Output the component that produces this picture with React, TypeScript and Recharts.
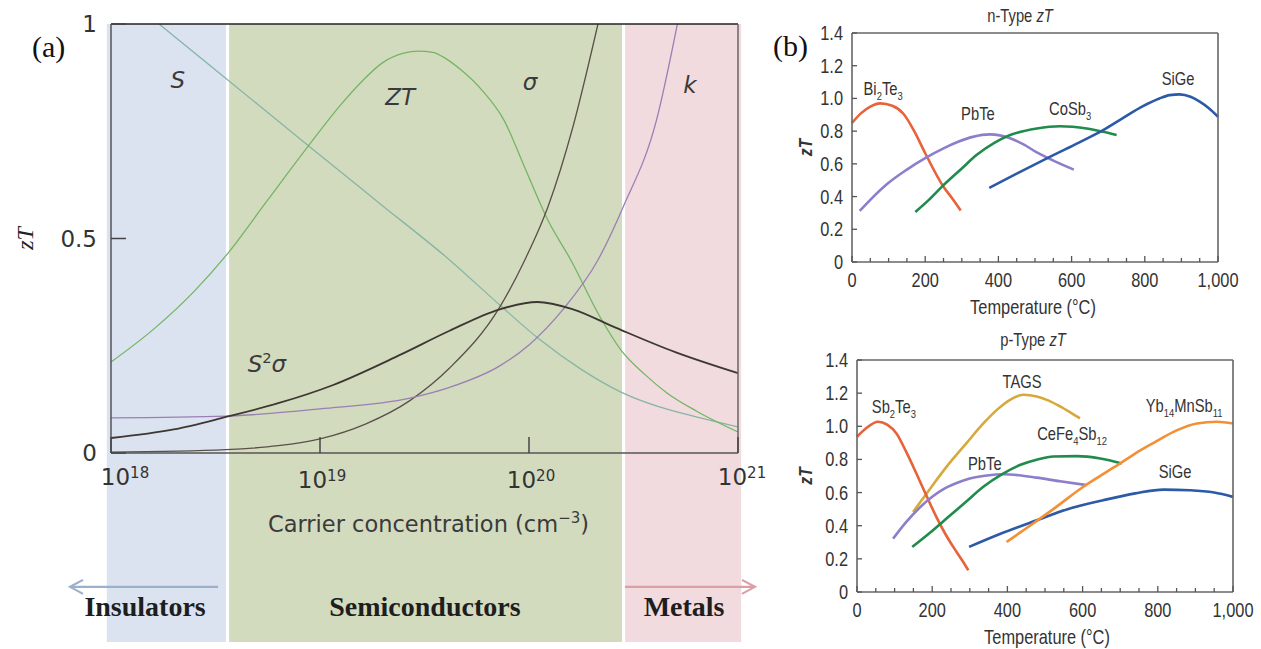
import React from 'react';
import { LineChart, Line, XAxis, YAxis, ReferenceArea, ReferenceDot, ReferenceLine } from 'recharts';

type Pair = [number, number];
type Seg = { t: string; sub?: boolean; sup?: boolean; it?: boolean };

// ================= Panel (a): log10(carrier concentration) vs relative magnitude
const aSeebeck: Pair[] = [[18.23, 1.0], [18.55, 0.873], [18.94, 0.718], [19.29, 0.58], [19.62, 0.45], [19.86, 0.345], [20.05, 0.265], [20.25, 0.195], [20.44, 0.142], [20.62, 0.108], [20.82, 0.082], [21.0, 0.061]];
const aZT: Pair[] = [[18.0, 0.212], [18.2, 0.287], [18.4, 0.378], [18.55, 0.46], [18.75, 0.59], [18.94, 0.713], [19.1, 0.812], [19.2, 0.866], [19.3, 0.91], [19.4, 0.932], [19.47, 0.937], [19.54, 0.934], [19.6, 0.92], [19.67, 0.895], [19.78, 0.843], [19.88, 0.776], [19.98, 0.665], [20.09, 0.543], [20.2, 0.45], [20.34, 0.317], [20.44, 0.24], [20.55, 0.185], [20.66, 0.14], [20.8, 0.098], [21.0, 0.049]];
const aSigma: Pair[] = [[18.0, 0.002], [18.55, 0.008], [18.8, 0.017], [19.0, 0.033], [19.22, 0.068], [19.43, 0.122], [19.62, 0.198], [19.86, 0.34], [19.98, 0.45], [20.09, 0.573], [20.21, 0.76], [20.33, 1.0]];
const aKappa: Pair[] = [[18.0, 0.082], [18.55, 0.086], [19.0, 0.103], [19.43, 0.128], [19.62, 0.153], [19.86, 0.203], [20.0, 0.252], [20.16, 0.333], [20.33, 0.45], [20.45, 0.573], [20.61, 0.776], [20.71, 1.0]];
const aPowerFactor: Pair[] = [[18.0, 0.035], [18.3, 0.055], [18.55, 0.084], [18.8, 0.116], [19.06, 0.158], [19.38, 0.228], [19.62, 0.285], [19.86, 0.335], [20.04, 0.352], [20.21, 0.335], [20.42, 0.291], [20.7, 0.235], [21.0, 0.186]];

const aXTicks = [18, 19, 20, 21];
const aYTicks = [0, 0.5, 1];

const aRegions = [
  { name: 'Insulators', from: 17.98, to: 18.55, labelX: 18.163, fill: '#dbe3f0' },
  { name: 'Semiconductors', from: 18.565, to: 20.445, labelX: 19.502, fill: '#d3dbbf' },
  { name: 'Metals', from: 20.46, to: 21.015, labelX: 20.742, fill: '#f1dbde' },
];
const aRegionLabelY = -0.38;
const aArrows = [
  { from: 18.512, to: 17.804, y: -0.312, color: '#9cb0cc' },
  { from: 20.459, to: 21.081, y: -0.312, color: '#d9a0a5' },
];
const aCurveLabels: { x: number; y: number; segs: Seg[] }[] = [
  { x: 18.32, y: 0.851, segs: [{ t: 'S', it: true }] },
  { x: 19.383, y: 0.811, segs: [{ t: 'ZT', it: true }] },
  { x: 20.005, y: 0.846, segs: [{ t: 'σ', it: true }] },
  { x: 20.77, y: 0.839, segs: [{ t: 'k', it: true }] },
  { x: 18.746, y: 0.189, segs: [{ t: 'S', it: true }, { t: '2', sup: true }, { t: 'σ', it: true }] },
];

// ================= Panel (b): temperature (°C) vs zT
const RED = '#e8623a';
const PURPLE = '#8d7ecb';
const GREEN = '#1f8b4c';
const BLUE = '#2c5aa6';
const GOLD = '#d6a93c';
const ORANGE = '#f39035';

const nBi2Te3: Pair[] = [[0, 0.85], [25, 0.91], [50, 0.95], [77, 0.97], [110, 0.955], [141, 0.905], [170, 0.8], [200, 0.665], [250, 0.46], [275, 0.385], [297, 0.315]];
const nPbTe: Pair[] = [[21, 0.312], [50, 0.38], [95, 0.475], [150, 0.565], [200, 0.635], [250, 0.695], [290, 0.735], [330, 0.765], [377, 0.78], [432, 0.757], [470, 0.717], [505, 0.67], [550, 0.62], [606, 0.565]];
const nCoSb3: Pair[] = [[173, 0.306], [210, 0.38], [250, 0.47], [300, 0.572], [341, 0.655], [390, 0.73], [432, 0.776], [505, 0.816], [568, 0.83], [641, 0.816], [686, 0.796], [723, 0.776]];
const nSiGe: Pair[] = [[375, 0.453], [450, 0.54], [550, 0.653], [620, 0.73], [686, 0.806], [740, 0.88], [795, 0.953], [840, 1.0], [868, 1.02], [895, 1.025], [925, 1.01], [950, 0.98], [975, 0.94], [1000, 0.888]];

const pSb2Te3: Pair[] = [[0, 0.937], [25, 0.99], [56, 1.027], [80, 1.01], [105, 0.957], [130, 0.85], [158, 0.715], [185, 0.58], [211, 0.453], [235, 0.35], [256, 0.272], [280, 0.19], [296, 0.131]];
const pTAGS: Pair[] = [[149, 0.483], [190, 0.61], [238, 0.755], [290, 0.895], [336, 1.017], [375, 1.105], [407, 1.16], [442, 1.19], [478, 1.18], [510, 1.155], [540, 1.12], [570, 1.08], [593, 1.048]];
const pPbTe: Pair[] = [[96, 0.322], [130, 0.42], [167, 0.51], [200, 0.575], [229, 0.62], [265, 0.658], [300, 0.685], [345, 0.703], [389, 0.711], [430, 0.705], [478, 0.69], [540, 0.668], [611, 0.645]];
const pCeFe4Sb12: Pair[] = [[147, 0.272], [190, 0.35], [238, 0.443], [290, 0.545], [336, 0.635], [385, 0.71], [433, 0.766], [480, 0.8], [522, 0.818], [584, 0.82], [647, 0.806], [704, 0.776]];
const pYb14MnSb11: Pair[] = [[398, 0.302], [460, 0.4], [522, 0.5], [602, 0.635], [650, 0.705], [700, 0.776], [750, 0.85], [789, 0.9], [850, 0.975], [904, 1.017], [957, 1.027], [1000, 1.017]];
const pSiGe: Pair[] = [[298, 0.272], [380, 0.35], [478, 0.433], [560, 0.5], [655, 0.554], [740, 0.595], [815, 0.618], [886, 0.614], [950, 0.6], [1000, 0.574]];

const bXTicks = [0, 50, 100, 150, 200, 250, 300, 350, 400, 450, 500, 550, 600, 650, 700, 750, 800, 850, 900, 950, 1000];
const bYTicks = [0, 0.2, 0.4, 0.6, 0.8, 1.0, 1.2, 1.4];

const nSeries = [
  { name: 'Bi2Te3', data: nBi2Te3, color: RED },
  { name: 'PbTe', data: nPbTe, color: PURPLE },
  { name: 'CoSb3', data: nCoSb3, color: GREEN },
  { name: 'SiGe', data: nSiGe, color: BLUE },
];
const pSeries = [
  { name: 'TAGS', data: pTAGS, color: GOLD },
  { name: 'Sb2Te3', data: pSb2Te3, color: RED },
  { name: 'PbTe', data: pPbTe, color: PURPLE },
  { name: 'CeFe4Sb12', data: pCeFe4Sb12, color: GREEN },
  { name: 'SiGe', data: pSiGe, color: BLUE },
  { name: 'Yb14MnSb11', data: pYb14MnSb11, color: ORANGE },
];
const nLabels: { x: number; y: number; segs: Seg[] }[] = [
  { x: 85, y: 1.021, segs: [{ t: 'Bi' }, { t: '2', sub: true }, { t: 'Te' }, { t: '3', sub: true }] },
  { x: 344, y: 0.868, segs: [{ t: 'PbTe' }] },
  { x: 596, y: 0.899, segs: [{ t: 'CoSb' }, { t: '3', sub: true }] },
  { x: 891, y: 1.082, segs: [{ t: 'SiGe' }] },
];
const pLabels: { x: number; y: number; segs: Seg[] }[] = [
  { x: 439, y: 1.231, segs: [{ t: 'TAGS' }] },
  { x: 98, y: 1.08, segs: [{ t: 'Sb' }, { t: '2', sub: true }, { t: 'Te' }, { t: '3', sub: true }] },
  { x: 572, y: 0.917, segs: [{ t: 'CeFe' }, { t: '4', sub: true }, { t: 'Sb' }, { t: '12', sub: true }] },
  { x: 870, y: 1.086, segs: [{ t: 'Yb' }, { t: '14', sub: true }, { t: 'MnSb' }, { t: '11', sub: true }] },
  { x: 340, y: 0.736, segs: [{ t: 'PbTe' }] },
  { x: 846, y: 0.688, segs: [{ t: 'SiGe' }] },
];

const toPts = (arr: Pair[]) => arr.map(([x, y]) => ({ x, y }));

const SANS_A = "'DejaVu Sans', sans-serif";
const SANS_B = "'Liberation Sans', Arial, sans-serif";
const SQUEEZE = 0.82;
const SERIF = "'Liberation Serif', 'DejaVu Serif', serif";

function Rich({ x, y, segs, size, family, fill, anchor = 'middle', weight, sx = 1 }: any) {
  let shift = 0;
  const kids = segs.map((s: Seg, i: number) => {
    const small = s.sub || s.sup;
    const target = s.sub ? size * 0.3 : s.sup ? -size * 0.38 : 0;
    const dy = target - shift;
    shift = target;
    return (
      <tspan key={i} dy={dy} fontSize={small ? size * 0.64 : size} fontStyle={s.it ? 'italic' : 'normal'}>
        {s.t}
      </tspan>
    );
  });
  return (
    <text x={0} y={0} transform={`translate(${x},${y}) scale(${sx},1)`} textAnchor={anchor} fontFamily={family} fontSize={size} fill={fill} fontWeight={weight}>
      {kids}
    </text>
  );
}

// Narrow (horizontally condensed) text for panel (b)
function NText({ x, y, size = 20, anchor = 'middle', rotate = 0, children, ...rest }: any) {
  return (
    <text
      x={0}
      y={0}
      transform={`translate(${x},${y}) rotate(${rotate}) scale(${SQUEEZE},1)`}
      textAnchor={anchor}
      fontFamily={SANS_B}
      fontSize={size}
      fill="#333"
      {...rest}
    >
      {children}
    </text>
  );
}

// ---------- Panel (a) ticks
const ATickX = (props: any) => {
  const { x, y, payload } = props;
  const v = payload.value as number;
  const dx = v === 18 ? 14 : v === 21 ? 4 : 2;
  const dy = v === 18 || v === 21 ? 32 : 35;
  return (
    <g>
      <line x1={x} x2={x} y1={y} y2={y - 16} stroke="#444" strokeWidth={1.5} />
      <text x={x + dx} y={y + dy} textAnchor="middle" fontFamily={SANS_A} fontSize={23} fill="#333">
        10
        <tspan dy={-7} fontSize={15}>{v}</tspan>
      </text>
    </g>
  );
};
const ATickY = (props: any) => {
  const { x, y, payload } = props;
  const v = payload.value as number;
  return (
    <g>
      <line x1={x} x2={x + 15} y1={y} y2={y} stroke="#444" strokeWidth={1.5} />
      <text x={x - 14} y={y} dy="0.36em" textAnchor="end" fontFamily={SANS_A} fontSize={23} fill="#333">
        {String(v)}
      </text>
    </g>
  );
};

function Arrow(props: any) {
  const { x1, y1, x2, y2, color } = props;
  const dir = x2 > x1 ? 1 : -1;
  return (
    <g>
      <line x1={x1} y1={y1} x2={x2} y2={y2} stroke={color} strokeWidth={2.2} />
      <polyline
        points={`${x2 - dir * 13},${y2 - 7} ${x2},${y2} ${x2 - dir * 13},${y2 + 7}`}
        fill="none"
        stroke={color}
        strokeWidth={2.2}
      />
    </g>
  );
}

function PanelA() {
  return (
    <LineChart width={770} height={649} margin={{ top: 23, right: 31, bottom: 195, left: 110 }}>
      {aRegions.map((r) => (
        <ReferenceArea
          key={r.name}
          x1={r.from}
          x2={r.to}
          y1={0}
          y2={1}
          ifOverflow="visible"
          shape={(p: any) => <rect x={p.x} y={p.y} width={p.width} height={p.height + 189} fill={r.fill} />}
        />
      ))}
      <XAxis
        dataKey="x"
        type="number"
        domain={[18, 21]}
        ticks={aXTicks}
        interval={0}
        height={1}
        tickSize={0}
        tickMargin={0}
        tickLine={false}
        axisLine={{ stroke: '#555', strokeWidth: 1.5 }}
        tick={ATickX}
        label={(p: any) => {
          const vb = p.viewBox;
          return (
            <text x={vb.x + vb.width / 2 + 4} y={vb.y + 79} textAnchor="middle" fontFamily={SANS_A} fontSize={22.5} fill="#3a3a3a">
              Carrier concentration (cm
              <tspan dy={-9} fontSize={15}>−3</tspan>
              <tspan dy={9}>)</tspan>
            </text>
          );
        }}
      />
      <XAxis xAxisId="top" orientation="top" type="number" domain={[18, 21]} height={1} tick={false} tickLine={false} axisLine={{ stroke: '#222', strokeWidth: 1.5 }} />
      <YAxis
        type="number"
        domain={[0, 1]}
        ticks={aYTicks}
        interval={0}
        width={1}
        tickSize={0}
        tickMargin={0}
        tickLine={false}
        axisLine={{ stroke: '#555', strokeWidth: 1.5 }}
        tick={ATickY}
        label={(p: any) => {
          const vb = p.viewBox;
          const cx = vb.x - 85;
          const cy = vb.y + vb.height / 2;
          return (
            <text x={cx} y={cy} dy="0.35em" transform={`rotate(-90 ${cx} ${cy})`} textAnchor="middle" fontFamily={SERIF} fontStyle="italic" fontSize={24} fill="#222">
              zT
            </text>
          );
        }}
      />
      <YAxis yAxisId="right" orientation="right" type="number" domain={[0, 1]} width={1} tick={false} tickLine={false} axisLine={{ stroke: '#666', strokeWidth: 1.5 }} />

      <Line data={toPts(aSeebeck)} dataKey="y" type="monotone" stroke="#86b5a5" strokeWidth={1.3} dot={false} isAnimationActive={false} />
      <Line data={toPts(aZT)} dataKey="y" type="monotone" stroke="#74b563" strokeWidth={1.3} dot={false} isAnimationActive={false} />
      <Line data={toPts(aSigma)} dataKey="y" type="monotone" stroke="#5a5048" strokeWidth={1.3} dot={false} isAnimationActive={false} />
      <Line data={toPts(aKappa)} dataKey="y" type="monotone" stroke="#9a7fb4" strokeWidth={1.3} dot={false} isAnimationActive={false} />
      <Line data={toPts(aPowerFactor)} dataKey="y" type="monotone" stroke="#3d3732" strokeWidth={1.8} dot={false} isAnimationActive={false} />

      {aCurveLabels.map((l, i) => (
        <ReferenceDot
          key={'cl' + i}
          x={l.x}
          y={l.y}
          ifOverflow="visible"
          shape={(p: any) => <Rich x={p.cx} y={p.cy} segs={l.segs} size={23} family={SANS_A} fill="#3a3a3a" />}
        />
      ))}
      {aRegions.map((r) => (
        <ReferenceDot
          key={'rl' + r.name}
          x={r.labelX}
          y={aRegionLabelY}
          ifOverflow="visible"
          shape={(p: any) => (
            <text x={p.cx} y={p.cy} textAnchor="middle" fontFamily={SERIF} fontWeight="bold" fontSize={28} fill="#1e1e1e">
              {r.name}
            </text>
          )}
        />
      ))}
      {aArrows.map((a, i) => (
        <ReferenceLine
          key={'ar' + i}
          segment={[{ x: a.from, y: a.y }, { x: a.to, y: a.y }]}
          ifOverflow="visible"
          shape={(p: any) => <Arrow {...p} color={a.color} />}
        />
      ))}
    </LineChart>
  );
}

// ---------- Panel (b)
const BTickX = (props: any) => {
  const { x, y, payload } = props;
  const v = payload.value as number;
  const major = v % 200 === 0;
  return (
    <g>
      <line x1={x} x2={x} y1={y} y2={y - (major ? 6 : 4)} stroke="#555" strokeWidth={1.3} />
      {major && (
        <NText x={x} y={y + 25} size={20}>
          {v.toLocaleString('en-US')}
        </NText>
      )}
    </g>
  );
};
const BTickY = (props: any) => {
  const { x, y, payload } = props;
  const v = payload.value as number;
  return (
    <g>
      <line x1={x} x2={x + 5} y1={y} y2={y} stroke="#555" strokeWidth={1.3} />
      <NText x={x - 9} y={y + 7} size={20} anchor="end">
        {v === 0 ? '0' : v.toFixed(1)}
      </NText>
    </g>
  );
};

function PanelB({ series, labels, title, width, height, margin, titleDx, titleDy, xLabDx, yLabDx }: any) {
  return (
    <LineChart width={width} height={height} margin={margin}>
      <XAxis
        dataKey="x"
        type="number"
        domain={[0, 1000]}
        ticks={bXTicks}
        interval={0}
        height={1}
        tickSize={0}
        tickMargin={0}
        tickLine={false}
        axisLine={{ stroke: '#666', strokeWidth: 1.6 }}
        tick={BTickX}
        label={(p: any) => {
          const vb = p.viewBox;
          return (
            <NText x={vb.x + vb.width / 2 + xLabDx} y={vb.y + 52} size={20}>
              Temperature (°C)
            </NText>
          );
        }}
      />
      <XAxis
        xAxisId="top"
        orientation="top"
        type="number"
        domain={[0, 1000]}
        height={1}
        tick={false}
        tickLine={false}
        axisLine={{ stroke: '#666', strokeWidth: 1.6 }}
        label={(p: any) => {
          const vb = p.viewBox;
          return (
            <NText x={vb.x + vb.width / 2 + titleDx} y={vb.y + 1 + titleDy} size={18}>
              {title}
              <tspan fontStyle="italic">zT</tspan>
            </NText>
          );
        }}
      />
      <YAxis
        type="number"
        domain={[0, 1.4]}
        ticks={bYTicks}
        interval={0}
        width={1}
        tickSize={0}
        tickMargin={0}
        tickLine={false}
        axisLine={{ stroke: '#666', strokeWidth: 1.6 }}
        tick={BTickY}
        label={(p: any) => {
          const vb = p.viewBox;
          const cx = vb.x + 1 + yLabDx;
          const cy = vb.y + vb.height / 2;
          return (
            <NText x={cx + 7} y={cy} size={19} rotate={-90} fontStyle="italic" fontWeight="bold">
              zT
            </NText>
          );
        }}
      />
      <YAxis yAxisId="right" orientation="right" type="number" domain={[0, 1.4]} width={1} tick={false} tickLine={false} axisLine={{ stroke: '#666', strokeWidth: 1.6 }} />
      {series.map((s: any) => (
        <Line key={s.name} data={toPts(s.data)} dataKey="y" type="monotone" stroke={s.color} strokeWidth={2.6} dot={false} isAnimationActive={false} />
      ))}
      {labels.map((l: any, i: number) => (
        <ReferenceDot
          key={'bl' + i}
          x={l.x}
          y={l.y}
          ifOverflow="visible"
          shape={(p: any) => <Rich x={p.cx} y={p.cy} segs={l.segs} size={18} family={SANS_B} fill="#333" sx={SQUEEZE} />}
        />
      ))}
    </LineChart>
  );
}

export default function App() {
  return (
    <div style={{ position: 'absolute', left: 0, top: 0, width: 1261, height: 649, background: '#fff', overflow: 'hidden' }}>
      <div style={{ position: 'absolute', left: 0, top: 0 }}>
        <PanelA />
      </div>
      <div style={{ position: 'absolute', left: 760, top: 0 }}>
        <PanelB
          series={nSeries}
          labels={nLabels}
          title="n-Type "
          width={501}
          height={330}
          margin={{ top: 32, right: 42, bottom: 67, left: 91 }}
          titleDx={-15}
          titleDy={-11}
          xLabDx={-2}
          yLabDx={-47}
        />
      </div>
      <div style={{ position: 'absolute', left: 760, top: 330 }}>
        <PanelB
          series={pSeries}
          labels={pLabels}
          title="p-Type "
          width={501}
          height={319}
          margin={{ top: 29, right: 27, bottom: 56, left: 96 }}
          titleDx={-12}
          titleDy={-14}
          xLabDx={2}
          yLabDx={-52}
        />
      </div>
      <div style={{ position: 'absolute', left: 32, top: 32, fontFamily: SERIF, fontSize: 30, lineHeight: '30px', color: '#111' }}>(a)</div>
      <div style={{ position: 'absolute', left: 773, top: 31, fontFamily: SERIF, fontSize: 30, lineHeight: '30px', color: '#111' }}>(b)</div>
    </div>
  );
}
